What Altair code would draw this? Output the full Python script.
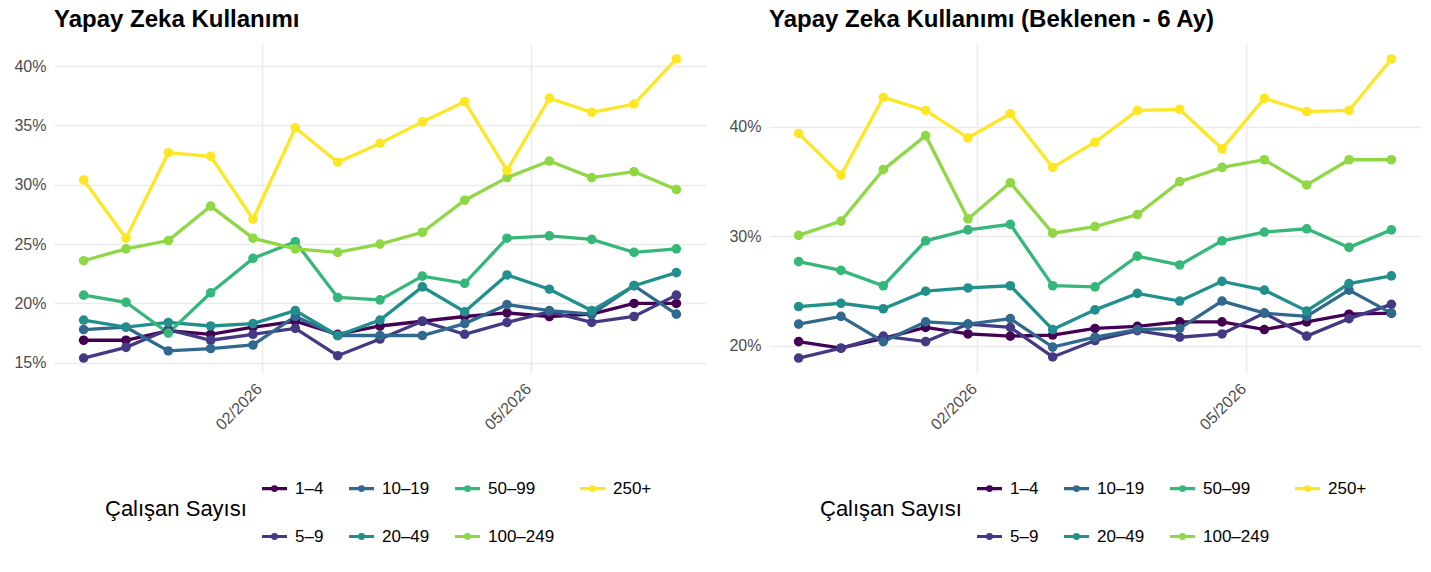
import altair as alt
import pandas as pd

dates = ["2025-12-04", "2025-12-18", "2026-01-01", "2026-01-15", "2026-01-29",
         "2026-02-12", "2026-02-26", "2026-03-12", "2026-03-26", "2026-04-09",
         "2026-04-23", "2026-05-07", "2026-05-21", "2026-06-04", "2026-06-18"]

groups = ["1–4", "5–9", "10–19", "20–49", "50–99", "100–249", "250+"]
colors = ["#440154", "#443A83", "#31688E", "#21908C", "#35B779", "#8FD744", "#FDE725"]

# Left panel: current usage (%)
cur_1_4 = [16.9, 16.9, 17.7, 17.4, 18.0, 18.5, 17.4, 18.1, 18.5, 18.9, 19.2, 18.9, 19.1, 20.0, 20.0]
cur_5_9 = [15.4, 16.3, 17.8, 16.9, 17.4, 17.9, 15.6, 17.0, 18.5, 17.4, 18.4, 19.3, 18.4, 18.9, 20.7]
cur_10_19 = [17.8, 18.0, 16.0, 16.2, 16.5, 18.9, 17.3, 17.3, 17.3, 18.3, 19.9, 19.4, 19.1, 21.5, 19.1]
cur_20_49 = [18.6, 18.0, 18.4, 18.1, 18.3, 19.4, 17.3, 18.6, 21.4, 19.3, 22.4, 21.2, 19.4, 21.5, 22.6]
cur_50_99 = [20.7, 20.1, 17.5, 20.9, 23.8, 25.2, 20.5, 20.3, 22.3, 21.7, 25.5, 25.7, 25.4, 24.3, 24.6]
cur_100_249 = [23.6, 24.6, 25.3, 28.2, 25.5, 24.6, 24.3, 25.0, 26.0, 28.7, 30.6, 32.0, 30.6, 31.1, 29.6]
cur_250 = [30.4, 25.5, 32.7, 32.4, 27.1, 34.8, 31.9, 33.5, 35.3, 37.0, 31.2, 37.3, 36.1, 36.8, 40.6]

# Right panel: expected usage in 6 months (%)
exp_1_4 = [20.4, 19.8, 20.7, 21.7, 21.1, 20.9, 21.0, 21.6, 21.8, 22.2, 22.2, 21.5, 22.2, 22.9, 23.0]
exp_5_9 = [18.9, 19.8, 20.9, 20.4, 22.0, 21.7, 19.0, 20.5, 21.4, 20.8, 21.1, 23.0, 20.9, 22.5, 23.8]
exp_10_19 = [22.0, 22.7, 20.4, 22.2, 22.0, 22.5, 19.9, 20.8, 21.5, 21.6, 24.1, 23.0, 22.7, 25.1, 23.0]
exp_20_49 = [23.6, 23.9, 23.4, 25.0, 25.3, 25.5, 21.5, 23.3, 24.8, 24.1, 25.9, 25.1, 23.2, 25.7, 26.4]
exp_50_99 = [27.7, 26.9, 25.5, 29.6, 30.6, 31.1, 25.5, 25.4, 28.2, 27.4, 29.6, 30.4, 30.7, 29.0, 30.6]
exp_100_249 = [30.1, 31.4, 36.1, 39.2, 31.6, 34.9, 30.3, 30.9, 32.0, 35.0, 36.3, 37.0, 34.7, 37.0, 37.0]
exp_250 = [39.4, 35.6, 42.7, 41.5, 39.0, 41.2, 36.3, 38.6, 41.5, 41.6, 38.0, 42.6, 41.4, 41.5, 46.2]

left_ticks = [15, 20, 25, 30, 35, 40]
right_ticks = [20, 30, 40]

# legend order: column-major look with 4 columns, 2 rows
legend_order = ["1–4", "10–19", "50–99", "250+", "5–9", "20–49", "100–249"]
legend_colors = [colors[groups.index(g)] for g in legend_order]

FONT = "Liberation Sans"
LEGEND_SYMBOL = ("M-1,0L1,0"
                 "M-0.15,0A0.15,0.15,0,1,1,0.15,0A0.15,0.15,0,1,1,-0.15,0Z"
                 "M-0.05,0A0.05,0.05,0,1,1,0.05,0A0.05,0.05,0,1,1,-0.05,0Z")


def panel(series, title, ticks):
    rows = []
    for g, vals in zip(groups, series):
        for d, v in zip(dates, vals):
            rows.append({"date": d + "T00:00:00", "value": v, "group": g})
    df = pd.DataFrame(rows)
    allv = [v for s in series for v in s]
    lo, hi = min(allv), max(allv)
    pad = (hi - lo) * 0.05
    x = alt.X(
        "date:T",
        scale=alt.Scale(domain=[
            alt.DateTime(year=2025, month=11, date=24, hours=4, minutes=48),
            alt.DateTime(year=2026, month=6, date=27, hours=19, minutes=12),
        ]),
        axis=alt.Axis(
            values=[alt.DateTime(year=2026, month=2, date=1),
                    alt.DateTime(year=2026, month=5, date=1)],
            format="%m/%Y", labelAngle=315, labelAlign="right", labelBaseline="middle",
            labelPadding=13, labelOffset=-3, title=None, grid=True,
            labelFont=FONT, labelFontSize=16, labelColor="#4D4D4D",
            gridColor="#EBEBEB", gridWidth=1.6, domain=False, ticks=False,
        ),
    )
    y = alt.Y(
        "value:Q",
        scale=alt.Scale(domain=[lo - pad, hi + pad], nice=False, zero=False),
        axis=alt.Axis(values=ticks, labelExpr="datum.value + '%'", title=None,
                      minExtent=49, maxExtent=49, labelPadding=8,
                      labelFont=FONT, labelFontSize=16, labelColor="#4D4D4D",
                      gridColor="#EBEBEB", gridWidth=1.6, domain=False, ticks=False),
    )
    color = alt.Color(
        "group:N",
        scale=alt.Scale(domain=legend_order, range=legend_colors),
        legend=alt.Legend(
            title="Çalışan Sayısı", orient="none", legendX=51, legendY=430,
            columns=4, direction="horizontal",
            titleOrient="left", titleAnchor="middle", titleBaseline="middle",
            titlePadding=13, titleFontSize=22, titleFontWeight="normal", titleColor="#000000",
            titleFont=FONT, labelFont=FONT,
            labelFontSize=17, labelColor="#000000", labelOffset=6,
            symbolType=LEGEND_SYMBOL, symbolSize=625, symbolStrokeWidth=3.2,
            rowPadding=25, columnPadding=18,
        ),
    )
    base = alt.Chart(df).encode(x=x, y=y, color=color)
    lines = base.mark_line(strokeWidth=3.3)
    pts = base.mark_point(filled=True, size=92, opacity=1)
    return alt.layer(lines, pts).properties(
        width=652, height=329,
        title=alt.Title(title, anchor="start", frame="group", fontSize=24,
                        fontWeight="bold", font=FONT, color="#000000", offset=12),
    )


left = panel([cur_1_4, cur_5_9, cur_10_19, cur_20_49, cur_50_99, cur_100_249, cur_250],
             "Yapay Zeka Kullanımı", left_ticks)
right = panel([exp_1_4, exp_5_9, exp_10_19, exp_20_49, exp_50_99, exp_100_249, exp_250],
              "Yapay Zeka Kullanımı (Beklenen - 6 Ay)", right_ticks)

chart = alt.hconcat(left, right, spacing=14).resolve_scale(color="independent").resolve_legend(
    color="independent"
).properties(
    padding={"left": 5, "top": 8, "right": 5, "bottom": 5},
    background="#FFFFFF",
).configure_view(stroke="transparent", strokeWidth=0)

chart.save("out.html", embed_options={"renderer": "svg", "actions": False})
